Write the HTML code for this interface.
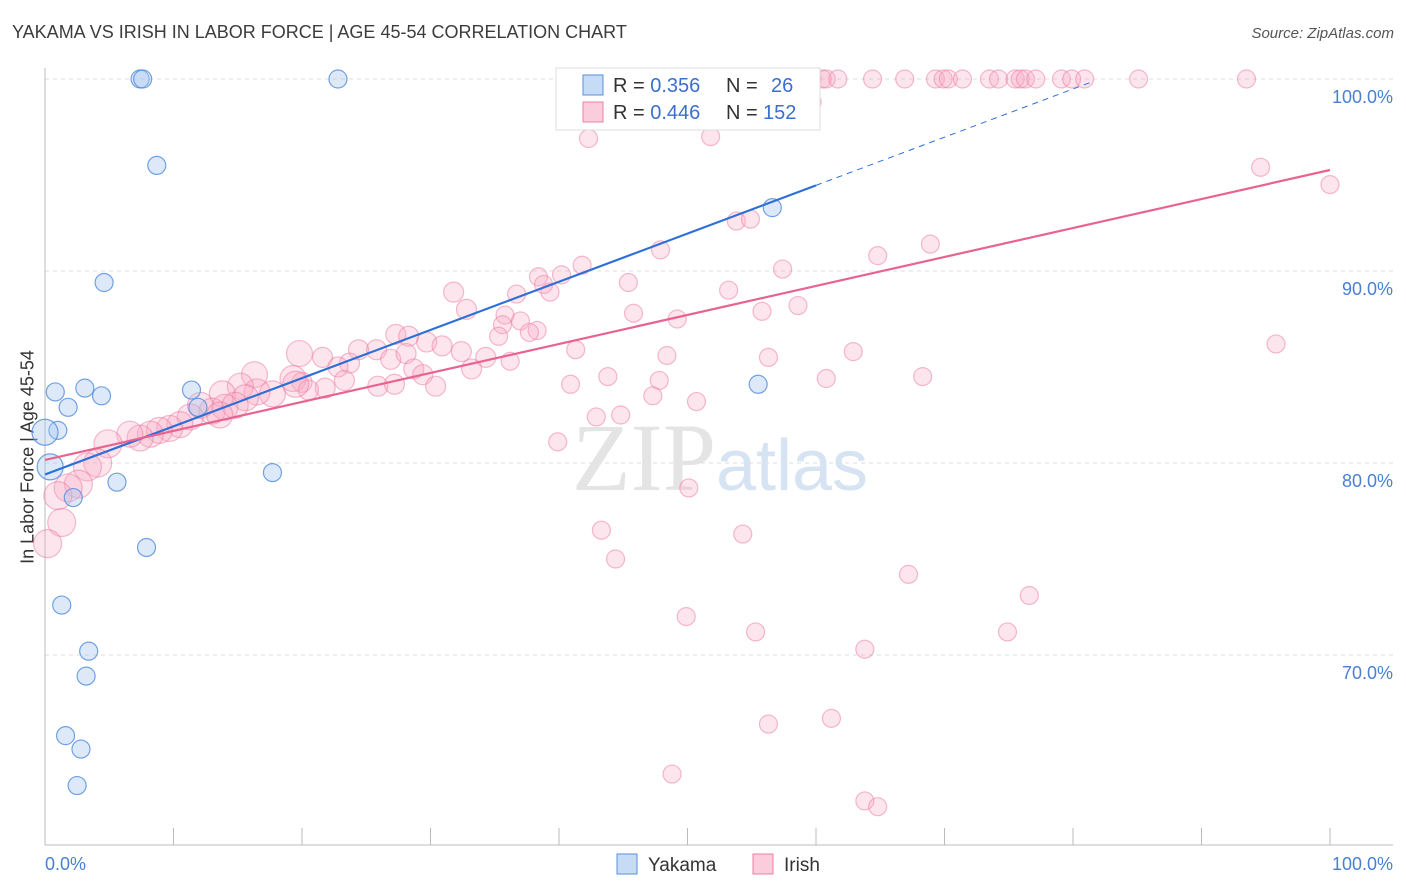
<!DOCTYPE html>
<html><head><meta charset="utf-8"><style>
body{margin:0;background:#fff;font-family:"Liberation Sans",sans-serif;}
#wrap{position:relative;width:1406px;height:892px;overflow:hidden;}
.t{position:absolute;white-space:nowrap;}
</style></head><body>
<div id="wrap">
<div class="t" style="left:12px;top:22px;font-size:18px;color:#3c3c3c;">YAKAMA VS IRISH IN LABOR FORCE | AGE 45-54 CORRELATION CHART</div>
<div class="t" style="right:12px;top:25px;font-size:15px;color:#555;font-style:italic;">Source: ZipAtlas.com</div>
<div class="t" style="left:28px;top:457px;font-size:18px;color:#333;transform:translate(-50%,-50%) rotate(-90deg);">In Labor Force | Age 45-54</div>
<svg id="svg" width="1406" height="892" style="position:absolute;left:0;top:0"></svg>
</div>
<script>
const yTicks=[100,90,80,70];
const xTickLabels=["0.0%","100.0%"];
const yakamaX=[7.4,7.6,22.8,8.7,4.6,0.8,3.1,4.4,1.8,11.4,1.0,0.0,0.4,2.2,5.6,17.7,7.9,1.3,3.4,3.2,1.6,2.8,2.5,55.5,56.6,11.9];
const yakamaY=[100,100,100,95.5,89.4,83.7,83.9,83.5,82.9,83.8,81.7,81.6,79.8,78.2,79.0,79.5,75.6,72.6,70.2,68.9,65.8,65.1,63.2,84.1,93.3,82.9];
const irishX=[58.0,58.8,59.7,60.5,60.8,61.7,64.4,66.9,69.3,69.9,70.3,71.4,73.5,74.2,75.5,75.9,76.3,77.1,79.1,79.9,80.9,85.1,93.5,59.7,42.3,51.8,94.6,100,53.8,54.9,47.9,68.9,64.8,57.4,41.8,40.2,38.4,38.8,39.3,45.4,36.7,53.2,32.8,31.8,35.8,37.0,35.6,38.3,45.8,49.2,55.8,58.6,27.3,28.3,29.7,37.7,35.3,25.8,30.9,32.4,41.3,48.4,56.3,62.9,95.8,19.8,21.6,24.4,23.7,26.9,28.1,34.3,36.2,28.7,29.4,30.4,20.0,19.3,22.8,16.3,25.9,27.2,23.3,21.8,20.5,19.5,17.7,16.5,15.2,13.8,15.6,33.2,40.9,43.8,47.8,47.3,60.8,68.3,50.7,44.8,42.9,39.9,12.1,13.0,14.0,14.8,13.6,11.3,10.5,9.7,8.9,8.2,7.4,6.6,4.9,4.1,3.3,2.6,1.8,1.0,1.3,0.2,50.1,43.3,54.3,44.4,67.2,76.6,49.9,55.3,74.9,63.8,56.3,61.2,48.8,63.8,64.8];
const irishY=[100,100,100,100,100,100,100,100,100,100,100,100,100,100,100,100,100,100,100,100,100,100,100,98.8,96.9,97.0,95.4,94.5,92.6,92.7,91.1,91.4,90.8,90.1,90.3,89.8,89.7,89.3,88.9,89.4,88.8,89.0,88.0,88.9,87.7,87.4,87.2,86.9,87.8,87.5,87.9,88.2,86.7,86.6,86.3,86.8,86.6,85.9,86.1,85.8,85.9,85.6,85.5,85.8,86.2,85.7,85.5,85.9,85.2,85.4,85.7,85.5,85.3,84.9,84.6,84.0,84.2,84.4,85.0,84.6,84.0,84.1,84.3,83.9,83.8,84.1,83.6,83.7,84.0,83.6,83.4,84.9,84.1,84.5,84.3,83.5,84.4,84.5,83.2,82.5,82.4,81.1,83.0,82.7,82.9,83.0,82.5,82.4,82.0,81.8,81.7,81.5,81.3,81.5,81.0,80.0,79.8,78.9,78.7,78.3,76.9,75.8,78.7,76.5,76.3,75.0,74.2,73.1,72.0,71.2,71.2,70.3,66.4,66.7,63.8,62.4,62.1];
const W={x0:45,x1:1330,yTop:79,ppu:19.2};
const X=v=>W.x0+(W.x1-W.x0)*v/100;
const Y=v=>W.yTop+(100-v)*W.ppu;
const svg=document.getElementById('svg');
const NS='http://www.w3.org/2000/svg';
function mk(tag,attrs,parent){const e=document.createElementNS(NS,tag);for(const k in attrs)e.setAttribute(k,attrs[k]);(parent||svg).appendChild(e);return e;}
yTicks.forEach(v=>{
 const g=mk('line',{x1:45,x2:1393,y1:Y(v),y2:Y(v),stroke:'#dcdcdc','stroke-dasharray':'4,4'});
 
 
 const t=mk('text',{x:1393,y:Y(v)+24,'text-anchor':'end','font-size':18,fill:'#4a7fd4','font-family':'Liberation Sans, sans-serif'});
 t.textContent=v.toFixed(1)+'%';
 
 
});
const ax=mk('line',{x1:45,x2:1393,y1:845,y2:845,stroke:'#bbb'});


const ay=mk('line',{x1:45,x2:45,y1:68,y2:845,stroke:'#bbb'});


for(let i=0;i<=10;i++){const tk=mk('line',{x1:X(i*10),x2:X(i*10),y1:828,y2:845,stroke:'#bbb'});
 
 }
[[0,'start',45],[100,'end',1393]].forEach((a,i)=>{const t=mk('text',{x:a[2],y:870,'text-anchor':a[1],'font-size':18,fill:'#4a7fd4','font-family':'Liberation Sans, sans-serif'});t.textContent=xTickLabels[i];
 
 });
const wm=mk('text',{x:720,y:490,'text-anchor':'middle','font-size':96,fill:'#e4e4e4','font-family':'Liberation Serif, serif'});
wm.innerHTML='ZIP<tspan font-family="Liberation Sans, sans-serif" font-size="72" fill="#d5e3f3">atlas</tspan>';


irishX.forEach((x,i)=>{const r=x<5?14:x<20?13:x<35?10:9;
 const c=mk('circle',{cx:X(x),cy:Y(irishY[i]),r:r,fill:'rgba(248,170,195,0.3)',stroke:'rgba(236,120,158,0.5)','stroke-width':1.2});
 
 });
yakamaX.forEach((x,i)=>{const r=x<0.5?13:9;
 const c=mk('circle',{cx:X(x),cy:Y(yakamaY[i]),r:r,fill:'rgba(170,200,240,0.4)',stroke:'rgba(80,140,220,0.8)','stroke-width':1.2});
 
 });
const fb=[79.4,0.251], fp=[80.16,0.151];
const bl=mk('line',{x1:X(0),y1:Y(fb[0]),x2:X(60),y2:Y(fb[0]+fb[1]*60),stroke:'#2d6fd6','stroke-width':2.2});


const bd=mk('line',{x1:X(60),y1:Y(fb[0]+fb[1]*60),x2:X(81.5),y2:Y(fb[0]+fb[1]*81.5),stroke:'#2d6fd6','stroke-width':1,'stroke-dasharray':'6,5'});


const pl=mk('line',{x1:X(0),y1:Y(fp[0]),x2:X(100),y2:Y(fp[0]+fp[1]*100),stroke:'#e8648f','stroke-width':2.2});


const lg=mk('g',{});


mk('rect',{x:556,y:68,width:264,height:62,fill:'#fff',stroke:'#ddd'},lg);
[['0.356','26','rgba(160,196,240,0.6)','#5a8fd8',86],['0.446','152','rgba(248,170,195,0.6)','#ec7fa3',113]].forEach(r=>{
 mk('rect',{x:583,y:r[4]-11,width:20,height:20,fill:r[2],stroke:r[3]},lg);
 const t=mk('text',{x:613,y:r[4]+6,'font-size':20,fill:'#333','font-family':'Liberation Sans, sans-serif'},lg);
 t.innerHTML='R = <tspan fill="#3a6fd0">'+r[0]+'</tspan><tspan x="726">N = </tspan><tspan fill="#3a6fd0" x="'+(r[1].length==2?771:763)+'">'+r[1]+'</tspan>';
 
 
});
const bl2=mk('g',{});


[['Yakama',617,'rgba(160,196,240,0.6)','#5a8fd8'],['Irish',753,'rgba(248,170,195,0.6)','#ec7fa3']].forEach(e=>{
 mk('rect',{x:e[1],y:854,width:20,height:20,fill:e[2],stroke:e[3]},bl2);
 const t=mk('text',{x:e[1]+31,y:871,'font-size':19,fill:'#333','font-family':'Liberation Sans, sans-serif'},bl2);
 t.textContent=e[0];
 
 
});
</script>
</body></html>
